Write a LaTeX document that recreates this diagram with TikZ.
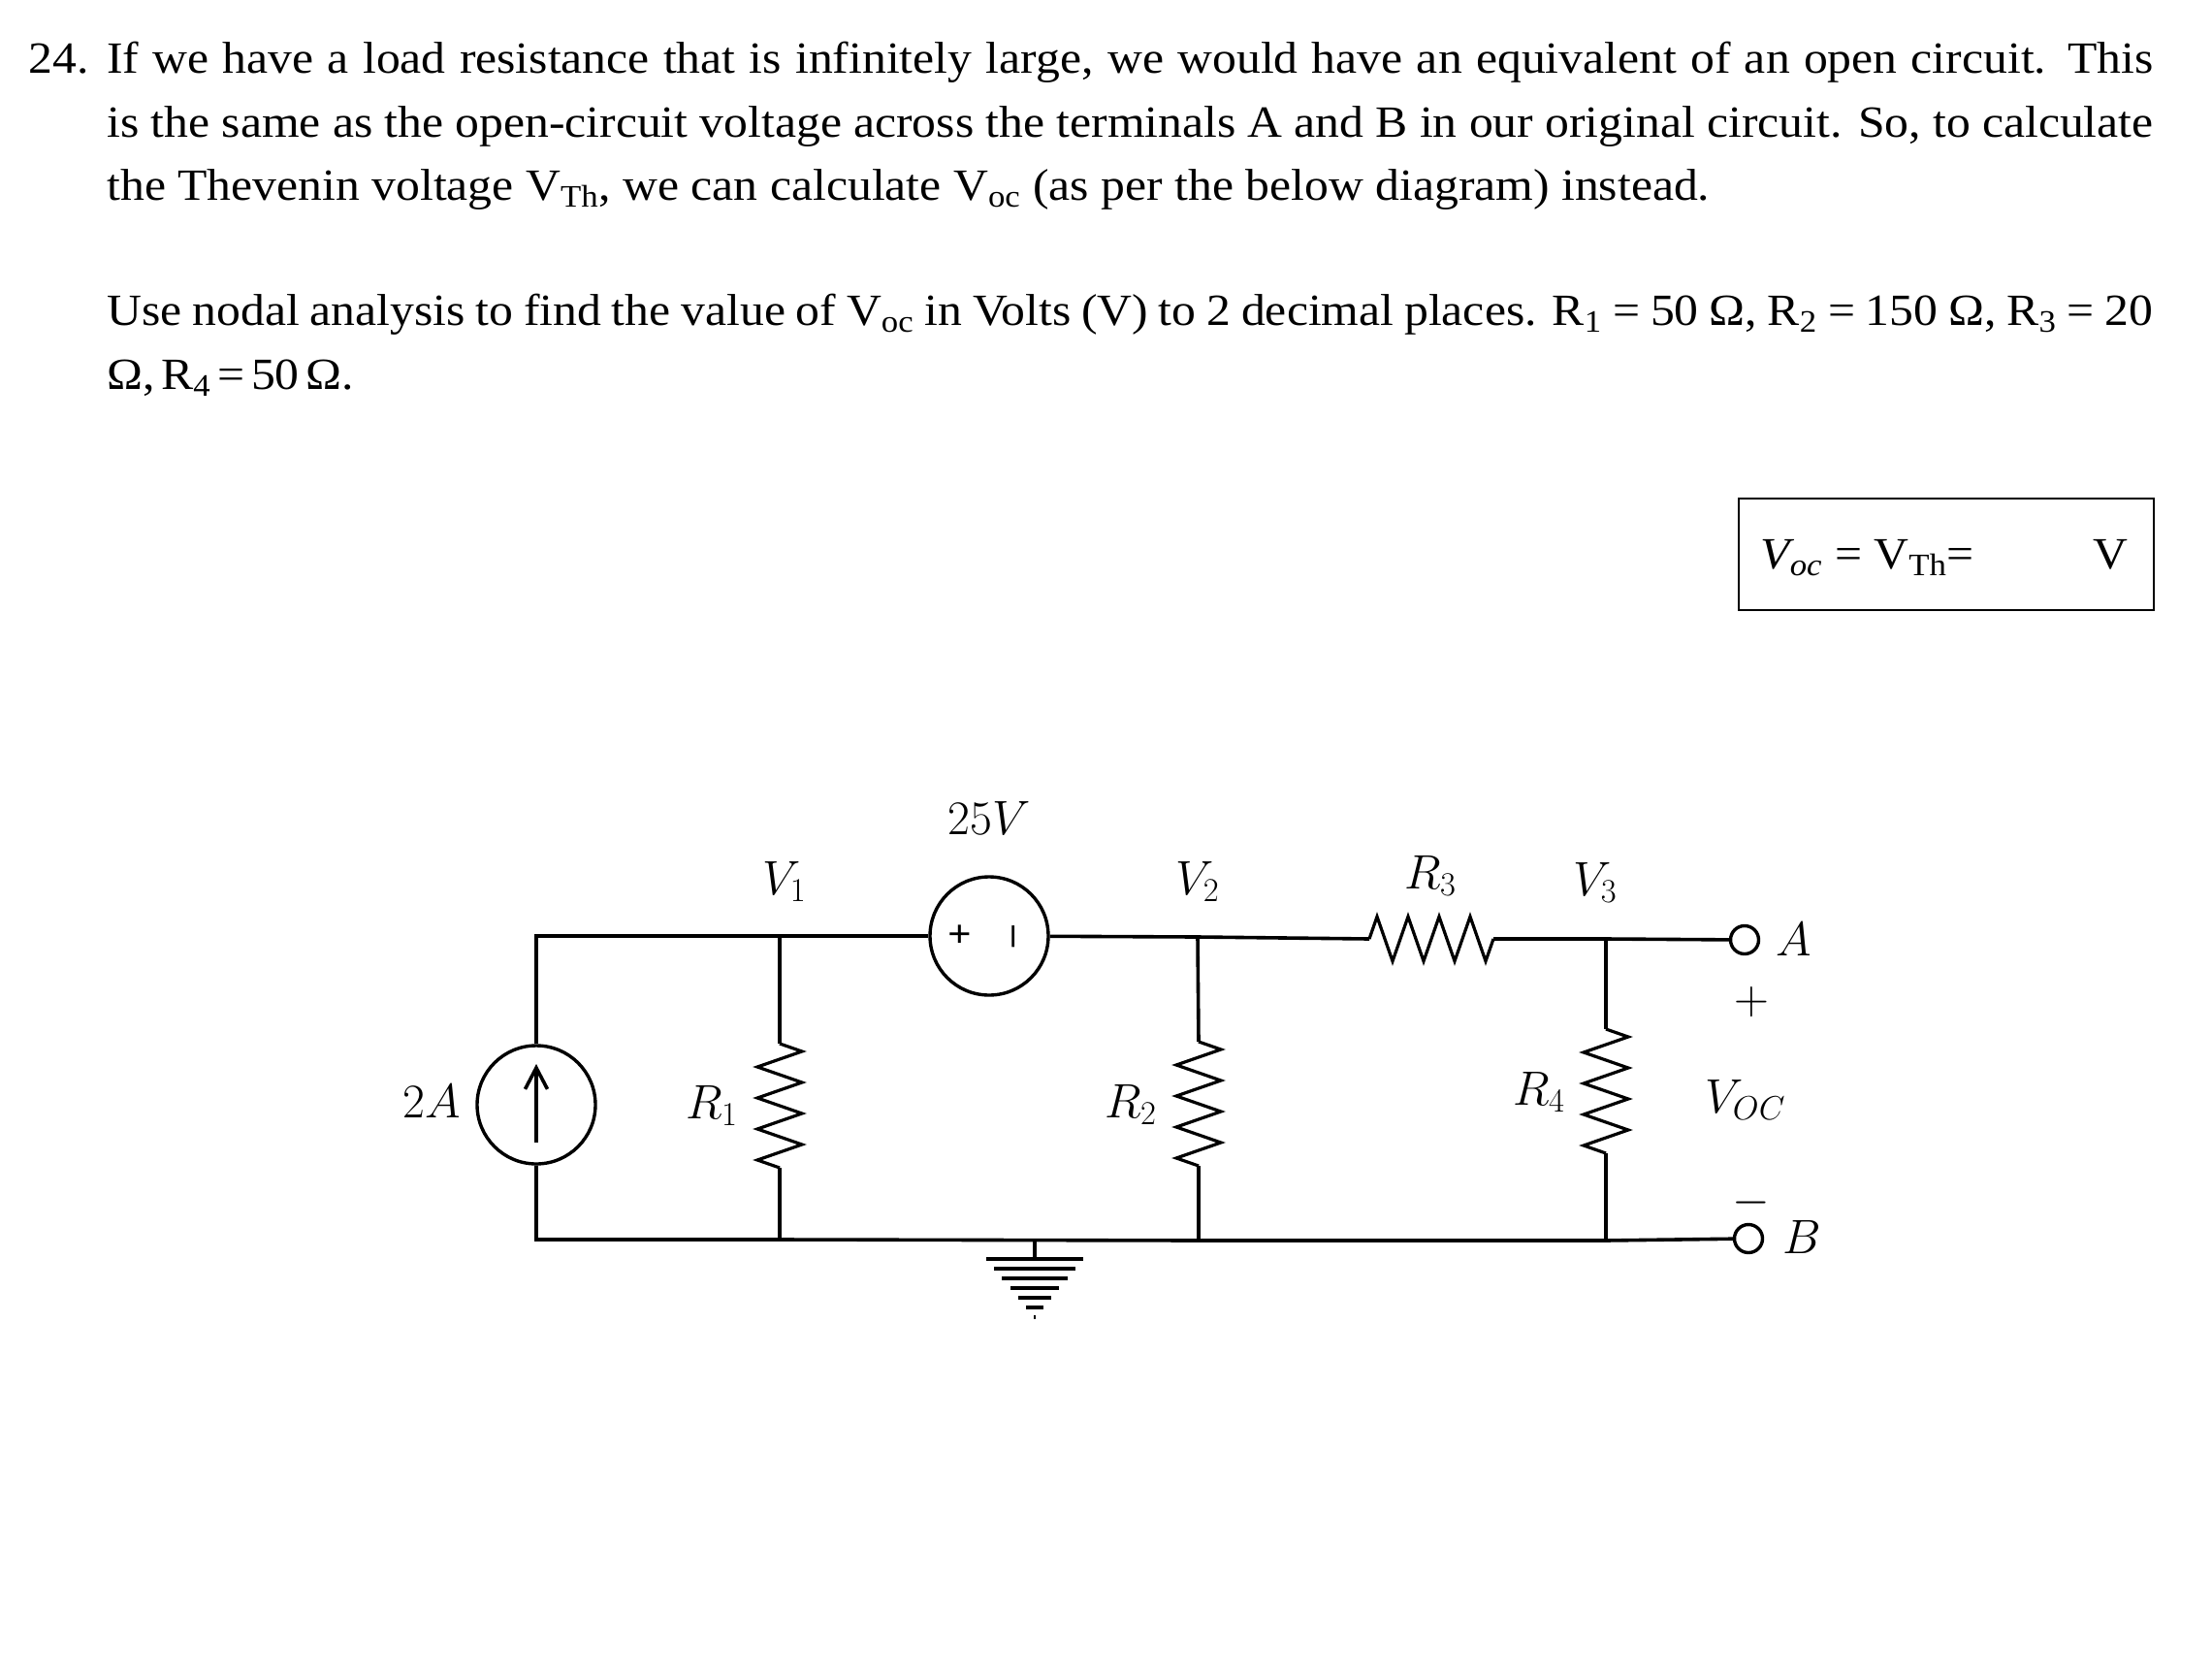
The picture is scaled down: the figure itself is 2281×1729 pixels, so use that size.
\documentclass[tikz,border=0pt]{standalone}
\usepackage[no-math]{fontspec}
\setmainfont[FakeStretch=1.08]{Liberation Serif}
\usetikzlibrary{arrows.meta,decorations.pathmorphing}

\begin{document}
\begin{tikzpicture}[x=0.5pt,y=-0.5pt,
	wire/.style={line width=1.8pt},
	res/.style={line width=1.6pt,decorate,decoration={zigzag,segment length=16pt,amplitude=11.5pt}},
	src/.style={circle,draw,line width=1.7pt,minimum size=61pt,inner sep=0pt},
	term/.style={circle,draw,line width=1.7pt,minimum size=14.5pt,inner sep=0pt},
	lbl/.style={font=\fontsize{24}{28}\selectfont,inner sep=0pt},
	pol/.style={font=\fontsize{20}{24}\selectfont\bfseries,inner sep=0pt},
	txtline/.style={anchor=base west,inner sep=0pt,font=\fontsize{23}{27}\selectfont},
	gndbar/.style={line width=2pt}
	]
	\useasboundingbox (0,0) rectangle (2281,1729);
	\node[txtline] (num) at (29,75) {24.};
	\node[txtline] (lineA) at (110,75) {\makebox[1055pt][s]{If we have a load resistance that is infinitely large, we would have an equivalent of an open circuit. This}};
	\node[txtline] (lineB) at (110,141) {\makebox[1055pt][s]{is the same as the open-circuit voltage across the terminals A and B in our original circuit. So, to calculate}};
	\node[txtline] (lineC) at (110,206) {the Thevenin voltage V\textsubscript{Th}, we can calculate V\textsubscript{oc} (as per the below diagram) instead.};
	\node[txtline] (lineD) at (110,335) {\makebox[1055pt][s]{Use nodal analysis to find the value of V\textsubscript{oc} in Volts (V) to 2 decimal places. R\textsubscript{1} = 50 Ω, R\textsubscript{2} = 150 Ω, R\textsubscript{3} = 20}};
	\node[txtline] (lineE) at (110,401) {Ω,\hspace{3.3pt}R\textsubscript{4}\hspace{3.3pt}=\hspace{3.3pt}50\hspace{3.3pt}Ω.};
	
	\node[draw,line width=1pt,minimum width=214pt,minimum height=57.5pt,inner sep=0pt] (ansbox) at (2007,571.5) {};
	\node[txtline] (ansl) at (1815,586) {\textit{V\textsubscript{oc}} = V\textsubscript{Th}=};
	\node[txtline] (ansv) at (2158,586) {V};
	
	\node[src] (isrc) at (553,1139) {};
	\node[src] (vsrc) at (1020,965) {};
	\node[term] (termA) at (1799,969) {};
	\node[term] (termB) at (1803,1277) {};
	
	\coordinate (tl) at (553,965);
	\coordinate (bl) at (553,1278);
	\coordinate (n1) at (804,965);
	\coordinate (r1a) at (804,1076);
	\coordinate (r1b) at (804,1204);
	\coordinate (m1) at (804,1278);
	\coordinate (n2) at (1235,966);
	\coordinate (r2a) at (1236,1074);
	\coordinate (r2b) at (1236,1202);
	\coordinate (m2) at (1236,1279);
	\coordinate (r3a) at (1412,968);
	\coordinate (r3b) at (1540,968);
	\coordinate (n3) at (1656,968);
	\coordinate (r4a) at (1656,1061);
	\coordinate (r4b) at (1656,1189);
	\coordinate (m3) at (1656,1279);
	\coordinate (gtop) at (1067,1278);
	\coordinate (gbot) at (1067,1298);
	\coordinate (arrb) at (553,1178);
	\coordinate (arrt) at (553,1097);
	
	\draw[wire] (isrc) -- (tl) -- (n1) -- (vsrc);
	\draw[wire] (isrc) -- (bl) -- (m1) -- (m2) -- (m3) -- (termB);
	\draw[wire] (vsrc) -- (n2) -- (r3a);
	\draw[wire] (r3b) -- (n3) -- (termA);
	\draw[wire] (n1) -- (r1a) (r1b) -- (m1);
	\draw[wire] (n2) -- (r2a) (r2b) -- (m2);
	\draw[wire] (n3) -- (r4a) (r4b) -- (m3);
	\draw[res] (r1a) -- (r1b);
	\draw[res] (r2a) -- (r2b);
	\draw[res] (r3a) -- (r3b);
	\draw[res] (r4a) -- (r4b);
	\draw[wire,-{Straight Barb[length=11pt,width=11.5pt]}] (arrb) -- (arrt);
	
	\draw[wire] (gtop) -- (gbot);
	\foreach \i/\w in {0/50,1/42,2/34,3/25,4/17,5/9,6/1}
		\draw[gndbar] (1067-\w,1298+10*\i) -- (1067+\w,1298+10*\i);
	
	\node[pol] (vplus) at (990,965) {+};
	\node[pol,rotate=90] (vminus) at (1049,966) {--};
	\node[lbl] (vlab) at (1020,843) {$25V$};
	\node[lbl] (ilab) at (445,1135) {$2A$};
	\node[lbl] (labvA) at (809,909) {$V_1$};
	\node[lbl] (labvB) at (1235,909) {$V_2$};
	\node[lbl] (labvC) at (1645,910) {$V_3$};
	\node[lbl] (labrA) at (734,1140) {$R_1$};
	\node[lbl] (labrB) at (1166,1139) {$R_2$};
	\node[lbl] (labrC) at (1475,903) {$R_3$};
	\node[lbl] (labrD) at (1587,1126) {$R_4$};
	\node[lbl] (labA) at (1850,968) {$A$};
	\node[lbl] (labB) at (1858,1275) {$B$};
	\node[lbl] (plus) at (1806,1033) {$+$};
	\node[lbl] (minus) at (1806,1240) {$-$};
	\node[lbl] (voc) at (1800,1134) {$V_{OC}$};
\end{tikzpicture}
\end{document}
